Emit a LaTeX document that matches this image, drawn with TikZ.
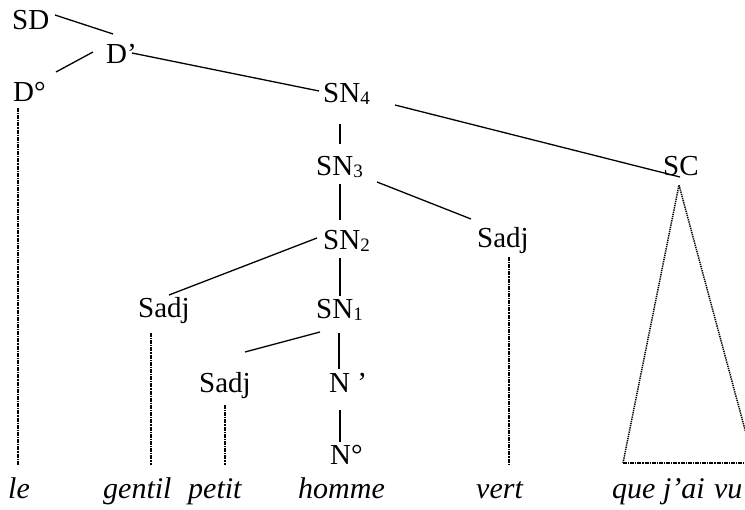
\documentclass[tikz,border=0pt]{standalone}
\usepackage{fontspec}
\setmainfont{Liberation Serif}
\usetikzlibrary{calc}
\newcommand{\sbs}[1]{\raisebox{-0.05em}{\fontsize{19}{19}\selectfont #1}}
\tikzset{
  lab/.style={inner sep=0pt, anchor=base west, font=\fontsize{29}{29}\selectfont},
  word/.style={inner sep=0pt, anchor=base west, font=\fontsize{30}{30}\selectfont\itshape},
  edge/.style={line width=1.3pt, black},
  proj/.style={line width=1.5pt, dash pattern=on 4pt off 1pt on 1.2pt off 1pt},
  tri/.style={line width=1.5pt, dash pattern=on 1.3pt off 0.9pt},
  base/.style={line width=1.5pt, dash pattern=on 4pt off 1pt on 1.2pt off 1pt}
}
\begin{document}
\begin{tikzpicture}[x=1pt,y=-1pt]
\useasboundingbox (0,0) rectangle (745,510);
\clip (0,0) rectangle (745,510);
% nodes
\node[lab] (SD) at (12,30) {SD};
\node[lab] (Dp) at (106,64) {D’};
\node[lab] (Do) at (13,102) {D°};
\node[lab] (SN4) at (323,103) {SN\sbs{4}};
\node[lab] (SN3) at (316,176) {SN\sbs{3}};
\node[lab] (SC) at (663,176) {SC};
\node[lab] (SN2) at (323,250) {SN\sbs{2}};
\node[lab] (SadjR) at (477,248) {Sadj};
\node[lab] (SadjL) at (138,318) {Sadj};
\node[lab] (SN1) at (316,319) {SN\sbs{1}};
\node[lab] (SadjLow) at (199,393) {Sadj};
\node[lab] (Np) at (329,393) {N ’};
\node[lab] (No) at (330,465) {N°};
% words
\node[word] (le) at (8,499) {le};
\node[word] (gentil) at (103,499) {gentil};
\node[word] (petit) at (188,499) {petit};
\node[word] (homme) at (298,499) {homme};
\node[word] (vert) at (476,499) {vert};
\node[word] (que) at (612,499) {que j’ai\hspace{2pt} vu};
% solid edges
\draw[edge] ($(SD.base west)+(43,-15)$) -- ($(Dp.base west)+(7,-30)$);
\draw[edge] ($(Dp.base west)+(-13,-12)$) -- ($(Do.base west)+(43,-30)$);
\draw[edge] ($(Dp.base west)+(26,-11)$) -- ($(SN4.base west)+(-4,-12)$);
\draw[edge] ($(SN4.base west)+(72,2)$) -- ($(SC.base west)+(17,1)$);
\draw[edge] ($(SN4.base west)+(17,21)$) -- ($(SN3.base west)+(24,-32)$);
\draw[edge] ($(SN3.base west)+(24,8)$) -- ($(SN2.base west)+(17,-30)$);
\draw[edge] ($(SN3.base west)+(61,6)$) -- ($(SadjR.base west)+(-6,-29)$);
\draw[edge] ($(SN2.base west)+(-6,-12)$) -- ($(SadjL.base west)+(31,-23)$);
\draw[edge] ($(SN2.base west)+(17,8)$) -- ($(SN1.base west)+(24,-23)$);
\draw[edge] ($(SN1.base west)+(4,13)$) -- ($(SadjLow.base west)+(46,-41)$);
\draw[edge] ($(SN1.base west)+(23,14)$) -- ($(Np.base west)+(10,-24)$);
\draw[edge] ($(Np.base west)+(11,17)$) -- ($(No.base west)+(10,-23)$);
% projection lines
\draw[proj] ($(Do.base west)+(5,6)$) -- ($(le.base west)+(10,-34)$);
\draw[proj] ($(SadjL.base west)+(13,15)$) -- ($(gentil.base west)+(48,-34)$);
\draw[proj] ($(SadjLow.base west)+(26,12)$) -- ($(petit.base west)+(37,-34)$);
\draw[proj] ($(SadjR.base west)+(32,9)$) -- ($(vert.base west)+(33,-34)$);
% triangle
\coordinate (apex) at ($(SC.base west)+(16,9)$);
\coordinate (bl) at ($(que.base west)+(11,-36)$);
\coordinate (br) at ($(que.base west)+(142,-36)$);
\draw[tri] (bl) -- (apex) -- (br);
\draw[base] (bl) -- (br);
\end{tikzpicture}
\end{document}
